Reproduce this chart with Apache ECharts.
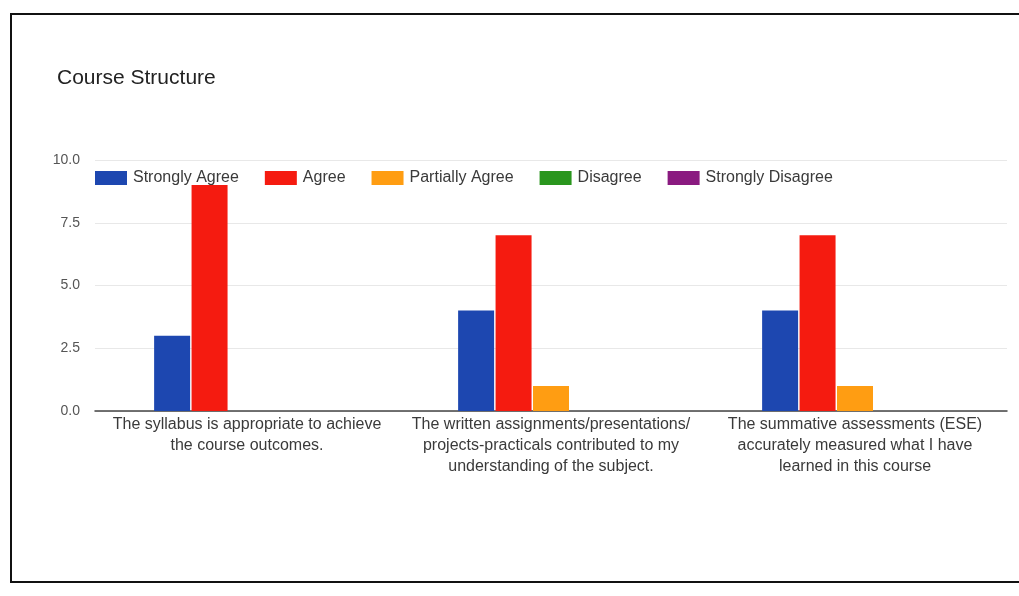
<!DOCTYPE html>
<html>
<head>
<meta charset="utf-8">
<script src="https://cdn.jsdelivr.net/npm/echarts@6/dist/echarts.min.js"></script>
<style>
html,body{margin:0;padding:0;background:#fff;}
#chart{width:1019px;height:596px;}
</style>
</head>
<body>
<div id="chart"></div>
<script>
const categories = [
  "The syllabus is appropriate to achieve\nthe course outcomes.",
  "The written assignments/presentations/\nprojects-practicals contributed to my\nunderstanding of the subject.",
  "The summative assessments (ESE)\naccurately measured what I have\nlearned in this course"
];
const seriesNames = ["Strongly Agree", "Agree", "Partially Agree", "Disagree", "Strongly Disagree"];
const stronglyAgree = [3, 4, 4];
const agree = [9, 7, 7];
const partiallyAgree = [0, 1, 1];
const disagree = [0, 0, 0];
const stronglyDisagree = [0, 0, 0];
const yTicks = [0, 2.5, 5, 7.5, 10];

const colors = ["#1d47b0", "#f51b10", "#ff9d12", "#2a961e", "#8a1a80"];
const values = [stronglyAgree, agree, partiallyAgree, disagree, stronglyDisagree];
const FONT = "Liberation Sans, Arial, sans-serif";

const chart = echarts.init(document.getElementById('chart'));
chart.setOption({
  animation: false,
  textStyle: { fontFamily: FONT },
  title: {
    text: "Course Structure",
    left: 57, top: 68, padding: 0,
    textStyle: { fontSize: 21, fontWeight: 'normal', color: '#222', fontFamily: FONT }
  },
  graphic: [{
    type: 'rect', silent: true, z: 100,
    shape: { x: 11, y: 14, width: 1020, height: 568 },
    style: { fill: 'none', stroke: '#111', lineWidth: 2 }
  }],
  legend: {
    left: 95, top: 170, padding: 0,
    itemWidth: 32, itemHeight: 14, itemGap: 26,
    icon: 'rect',
    textStyle: { fontSize: 16, color: '#3a3a3a', padding: [0, 0, 0, 1] },
    data: seriesNames
  },
  grid: { left: 95, right: 12, top: 160, bottom: 185 },
  xAxis: {
    type: 'category',
    data: categories,
    axisLine: { show: true, lineStyle: { color: '#444', width: 1.5 } },
    axisTick: { show: false },
    axisLabel: { interval: 0, fontSize: 16, color: '#3a3a3a', lineHeight: 21, margin: 3 }
  },
  yAxis: {
    type: 'value',
    min: yTicks[0], max: yTicks[yTicks.length - 1], interval: 2.5,
    axisLine: { show: false },
    axisTick: { show: false },
    splitLine: { lineStyle: { color: '#e8e8e8' } },
    axisLabel: { fontSize: 14, color: '#555', margin: 15, formatter: v => v.toFixed(1) }
  },
  series: seriesNames.map((name, i) => ({
    name: name,
    type: 'bar',
    data: values[i],
    barWidth: 36,
    barGap: '4%',
    itemStyle: { color: colors[i] }
  }))
});
</script>
</body>
</html>
